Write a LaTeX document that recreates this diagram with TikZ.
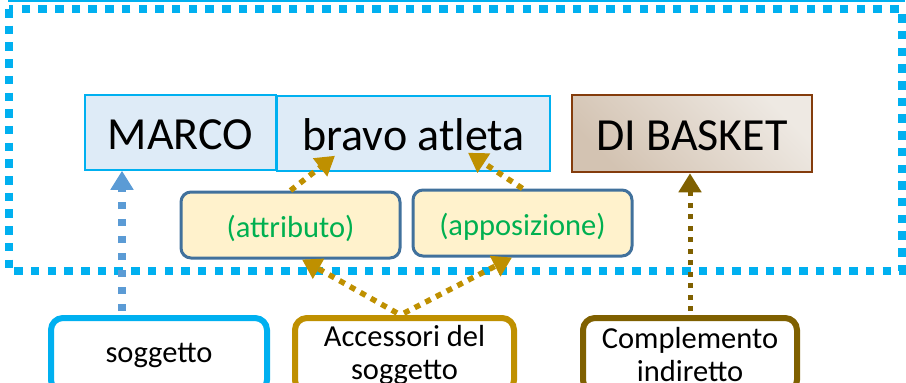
\documentclass[tikz,border=0pt]{standalone}
\usepackage{fontspec}
\setmainfont{Carlito}
\usetikzlibrary{arrows.meta}

\definecolor{framecyan}{HTML}{00B0F0}
\definecolor{wordfill}{HTML}{DEEBF7}
\definecolor{basketline}{HTML}{843C0C}
\definecolor{basketdark}{HTML}{D3C3B2}
\definecolor{basketlight}{HTML}{EEE9E3}
\definecolor{notefill}{HTML}{FFF2CC}
\definecolor{noteline}{HTML}{41719C}
\definecolor{notetext}{HTML}{00B050}
\definecolor{arrowblue}{HTML}{5B9BD5}
\definecolor{arrowgold}{HTML}{BF9000}
\definecolor{arrowbrown}{HTML}{7F6000}

\tikzset{
  word/.style={draw=framecyan, line width=1.5pt, fill=wordfill, minimum height=75pt,
    inner sep=0pt, text height=33pt, text depth=0pt, font=\fontsize{46}{50}\selectfont},
  basket/.style={draw=basketline, line width=2.5pt, left color=basketdark,
    right color=basketlight, shading angle=135, minimum width=240pt, minimum height=77pt,
    inner sep=0pt, text height=33pt, text depth=0pt, font=\fontsize{46}{50}\selectfont},
  note/.style={draw=noteline, line width=3pt, fill=notefill, rounded corners=10pt,
    minimum width=219pt, minimum height=66pt, inner sep=0pt, text=notetext,
    text height=24pt, text depth=0pt, font=\fontsize{30.5}{34}\selectfont},
  role/.style={draw=#1, line width=6pt, fill=white, rounded corners=12pt,
    minimum height=74pt, inner sep=0pt, align=center, font=\fontsize{30.5}{33}\selectfont},
  link/.style={draw=#1, line width=5.5pt, dash pattern=on 6pt off 6pt,
    -{Triangle[width=22pt,length=19pt]}},
}

\begin{document}
\begin{tikzpicture}[x=1pt,y=-1pt]
  %%%%% START %%%%%
  \useasboundingbox (0,0) rectangle (906,383);

  % frame round the sentence
  \draw[framecyan, line width=2pt] (8,1) -- (905,1);
  \draw[framecyan, line width=8pt, dash pattern=on 8.5pt off 8.2pt] (9,9) rectangle (901.5,271);

  % the sentence
  \node[word, minimum width=191pt] (marco) at (180.5,132.5) {MARCO};
  \node[word, minimum width=273pt] (bravo) at (413.5,133.5) {bravo atleta};
  \node[basket] (basket) at (692,133.5) {DI BASKET};

  \node[note] (attr) at (290.5,225) {(attributo)};
  \node[note] (appos) at (522.5,223) {(apposizione)};

  % roles
  \node[role=framecyan, minimum width=216pt] (sogg) at (159,355) {soggetto};
  \node[role=arrowgold, minimum width=219pt] (acc) at (404.5,355) {Accessori del\\soggetto};
  \node[role=arrowbrown, minimum width=214pt] (compl) at (690,355) {Complemento\\indiretto};

  % arrows
  \draw[link=arrowblue, line width=7.5pt, dash pattern=on 7pt off 10pt, shorten <=4pt]
    ([xshift=-37pt]sogg.north) -- ([xshift=-58.5pt]marco.south);
  \draw[link=arrowgold, shorten <=4pt] ([xshift=-4pt]acc.north) -- ([xshift=11.5pt]attr.south);
  \draw[link=arrowgold, shorten <=4pt] ([xshift=-4pt]acc.north) -- ([xshift=-10.5pt]appos.south);
  \draw[link=arrowgold] (attr.north) -- ([xshift=-78.5pt,yshift=16pt]bravo.south);
  \draw[link=arrowgold] (appos.north) -- ([xshift=54.5pt,yshift=19pt]bravo.south);
  \draw[link=arrowbrown, line width=5pt, dash pattern=on 5pt off 6.5pt, shorten <=4pt]
    (compl.north) -- (compl.north |- basket.south);

  %%%%% END %%%%%
\end{tikzpicture}
\end{document}
